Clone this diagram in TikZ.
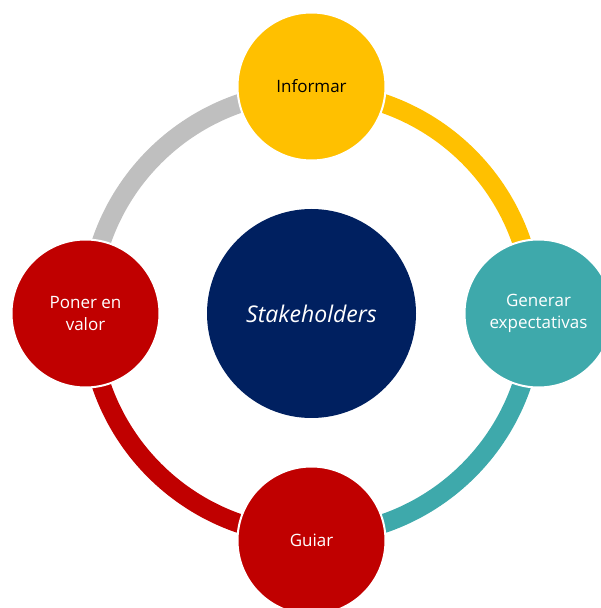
\documentclass[tikz,border=0pt]{standalone}
\usepackage{fontspec}
\setmainfont{Open Sans}
\usetikzlibrary{calc}
\definecolor{cyellow}{HTML}{FFC000}
\definecolor{cteal}{HTML}{3EA9AB}
\definecolor{cred}{HTML}{C00000}
\definecolor{cnavy}{HTML}{002060}
\definecolor{cgray}{HTML}{BFBFBF}
\tikzset{
  ring/.style={line width=19pt},
  outer/.style={circle, draw=white, line width=2pt, minimum size=148pt, inner sep=0pt,
    align=center, font=\fontsize{17pt}{22pt}\selectfont, text=white},
  twoline/.style={text depth=-2pt},
}
\begin{document}
\begin{tikzpicture}[x=1pt,y=1pt]
\useasboundingbox (0,0) rectangle (601,608);
\clip (0,0) rectangle (601,608);
\coordinate (c) at (311.5,294.5);
% ring segments
\draw[ring, cyellow] (c) ++(0:222) arc[start angle=0, end angle=90, radius=222];
\draw[ring, cgray] (c) ++(90:222) arc[start angle=90, end angle=180, radius=222];
\draw[ring, cred] (c) ++(180:222) arc[start angle=180, end angle=270, radius=222];
\draw[ring, cteal] (c) ++(270:222) arc[start angle=270, end angle=360, radius=222];
% center
\node[circle, fill=cnavy, minimum size=209pt, inner sep=0pt, text=white,
  font=\fontsize{23pt}{27pt}\selectfont\itshape] (stake) at (c) {Stakeholders};
% outer circles
\node[outer, fill=cyellow, text=black] (inf) at ($(c)+(0,227)$) {Informar};
\node[outer, fill=cteal] (gen) at ($(c)+(227,0)$) {\raisebox{-2pt}{\parbox{140pt}{\centering Generar\\expectativas}}};
\node[outer, fill=cred] (gui) at ($(c)+(0,-227)$) {Guiar};
\node[outer, fill=cred] (pon) at ($(c)+(-226,0)$) {\raisebox{-2pt}{\parbox{140pt}{\centering Poner en\\valor}}};
\end{tikzpicture}
\end{document}
